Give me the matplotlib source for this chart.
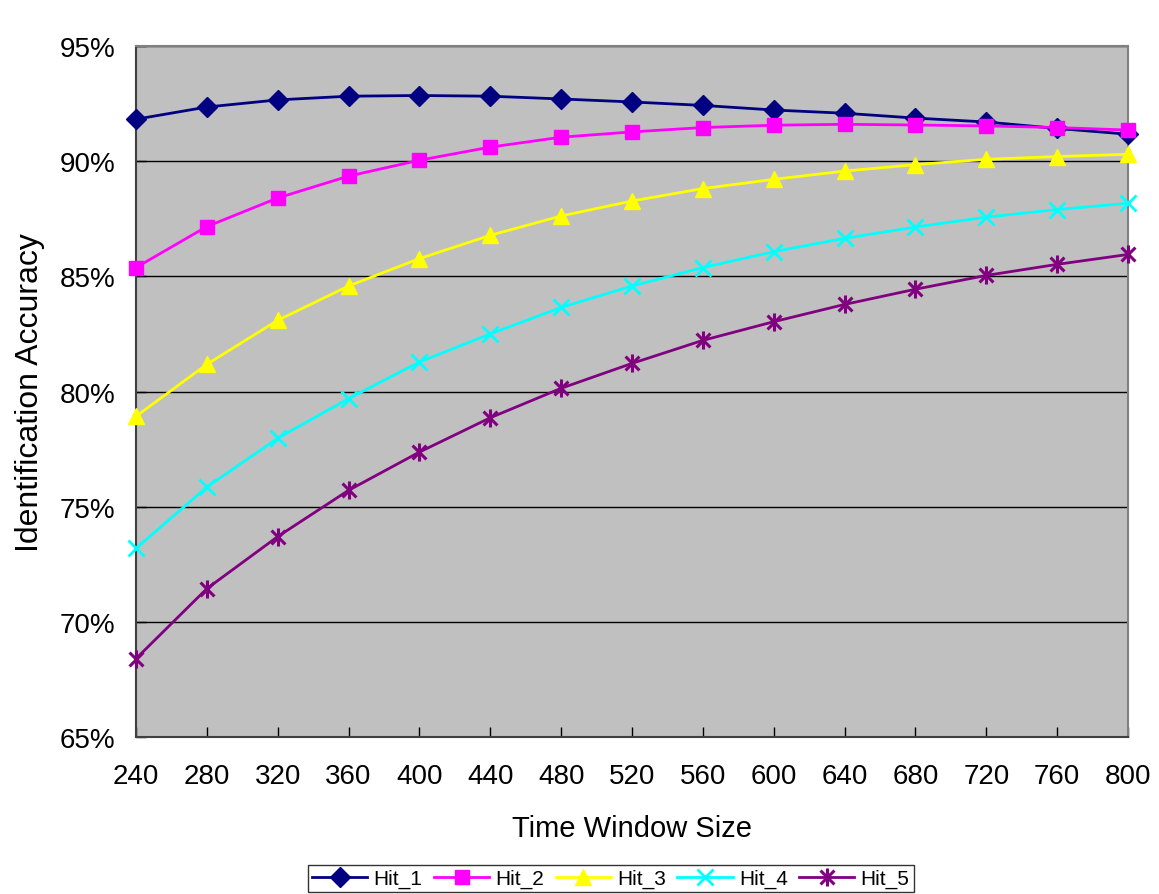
import matplotlib
matplotlib.use('Agg')
import matplotlib.pyplot as plt
from matplotlib.path import Path
from matplotlib.ticker import FuncFormatter

plt.rcParams['font.family'] = ['Liberation Sans', 'DejaVu Sans']

# 数据
window_sizes = [240, 280, 320, 360, 400, 440, 480, 520, 560, 600, 640, 680, 720, 760, 800]
hit_1 = [91.82, 92.35, 92.66, 92.82, 92.85, 92.82, 92.70, 92.57, 92.42, 92.22, 92.08, 91.87, 91.70, 91.42, 91.17]
hit_2 = [85.38, 87.16, 88.40, 89.35, 90.04, 90.61, 91.04, 91.27, 91.46, 91.56, 91.60, 91.57, 91.53, 91.46, 91.35]
hit_3 = [78.92, 81.18, 83.09, 84.58, 85.77, 86.78, 87.62, 88.27, 88.81, 89.21, 89.57, 89.85, 90.08, 90.20, 90.30]
hit_4 = [73.19, 75.85, 77.97, 79.69, 81.28, 82.50, 83.65, 84.58, 85.38, 86.07, 86.65, 87.14, 87.57, 87.90, 88.17]
hit_5 = [68.40, 71.44, 73.70, 75.71, 77.37, 78.86, 80.14, 81.22, 82.22, 83.03, 83.78, 84.44, 85.04, 85.52, 85.95]

series_names = ['Hit_1', 'Hit_2', 'Hit_3', 'Hit_4', 'Hit_5']
series_colors = ['#000080', '#FF00FF', '#FFFF00', '#00FFFF', '#800080']

# Excel风格的星号标记 (X + 竖线)
star_path = Path(
    [(-1, -1), (1, 1), (-1, 1), (1, -1), (0, -1.3), (0, 1.3)],
    [Path.MOVETO, Path.LINETO, Path.MOVETO, Path.LINETO, Path.MOVETO, Path.LINETO])

markers = ['D', 's', '^', 'x', star_path]
marker_sizes = [10, 10, 11, 12, 13]
edge_widths = [1, 1, 1, 2, 2.2]

fig = plt.figure(figsize=(11.59, 8.95), dpi=100)
ax = fig.add_axes([0.1173, 0.1754, 0.9733 - 0.1173, 0.9475 - 0.1754])
ax.set_facecolor('#C0C0C0')

all_series = [hit_1, hit_2, hit_3, hit_4, hit_5]
for vals, name, color, mk, ms, ew in zip(all_series, series_names, series_colors,
                                         markers, marker_sizes, edge_widths):
    ax.plot(window_sizes, vals, color=color, linewidth=2, marker=mk, markersize=ms,
            markerfacecolor=color, markeredgecolor=color, markeredgewidth=ew,
            label=name, clip_on=False, zorder=3)

ax.set_xlim(240, 800)
ax.set_ylim(65, 95)
ax.set_xticks(window_sizes)
ax.set_yticks([65, 70, 75, 80, 85, 90, 95])
ax.yaxis.set_major_formatter(FuncFormatter(lambda v, p: f'{v:.0f}%'))
ax.yaxis.grid(True, color='black', linewidth=1)
ax.set_axisbelow(True)

ax.tick_params(axis='both', direction='in', length=7, width=1, labelsize=20)
ax.tick_params(axis='x', pad=19)
ax.tick_params(axis='y', pad=15)
for s in ['left', 'bottom']:
    ax.spines[s].set_color('#404040')
    ax.spines[s].set_linewidth(1.5)
for s in ['top', 'right']:
    ax.spines[s].set_color('#808080')
    ax.spines[s].set_linewidth(1.5)

ax.set_xlabel('Time Window Size', fontsize=21, labelpad=18)
ax.set_ylabel('Identification Accuracy', fontsize=23, labelpad=10)

leg = fig.legend(loc='lower center', bbox_to_anchor=(0.527, 0.002), ncol=5, fontsize=15,
                 frameon=True, fancybox=False, edgecolor='black', handlelength=2.65,
                 handletextpad=0.3, columnspacing=0.55, borderpad=0.2, borderaxespad=0)
leg.get_frame().set_linewidth(1)

plt.savefig('out.png', dpi=100)
